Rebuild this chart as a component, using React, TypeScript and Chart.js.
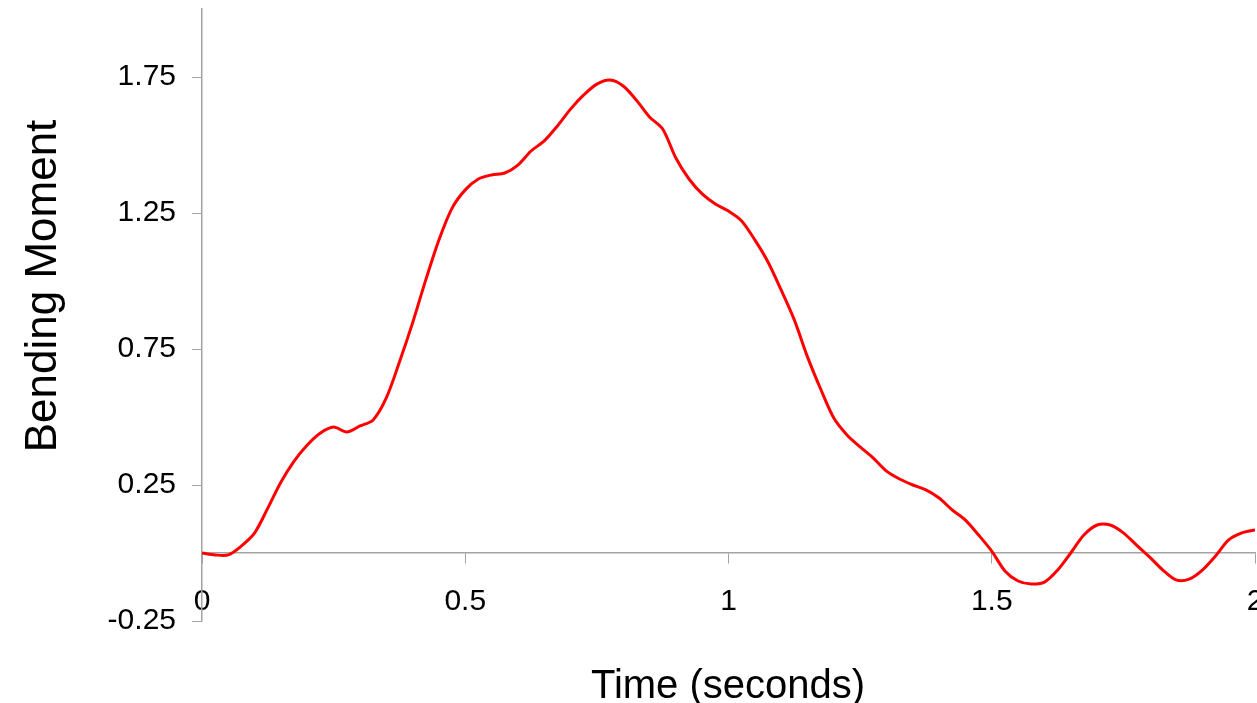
import React, { useEffect, useRef } from "react";
import { Chart, registerables } from "chart.js";

Chart.register(...registerables);

const times = [
  0, 0.025, 0.05, 0.075, 0.1, 0.125, 0.15, 0.175, 0.2, 0.225,
  0.25, 0.275, 0.3, 0.325, 0.35, 0.375, 0.4, 0.425, 0.45, 0.475,
  0.5, 0.525, 0.55, 0.575, 0.6, 0.625, 0.65, 0.675, 0.7, 0.725,
  0.75, 0.775, 0.8, 0.825, 0.85, 0.875, 0.9, 0.925, 0.95, 0.975,
  1.0, 1.025, 1.05, 1.075, 1.1, 1.125, 1.15, 1.175, 1.2, 1.225,
  1.25, 1.275, 1.3, 1.325, 1.35, 1.375, 1.4, 1.425, 1.45, 1.475,
  1.5, 1.525, 1.55, 1.575, 1.6, 1.625, 1.65, 1.675, 1.7, 1.725,
  1.75, 1.775, 1.8, 1.825, 1.85, 1.875, 1.9, 1.925, 1.95, 1.975,
  2.0,
];

const bendingMoment = [
  0.0, -0.007, -0.007, 0.026, 0.074, 0.165, 0.261, 0.338, 0.397, 0.441,
  0.463, 0.445, 0.467, 0.489, 0.57, 0.702, 0.846, 1.004, 1.151, 1.268,
  1.335, 1.375, 1.39, 1.397, 1.426, 1.478, 1.515, 1.57, 1.632, 1.684,
  1.724, 1.739, 1.717, 1.665, 1.603, 1.559, 1.452, 1.375, 1.32, 1.283,
  1.257, 1.221, 1.151, 1.07, 0.967, 0.857, 0.721, 0.603, 0.496, 0.434,
  0.39, 0.349, 0.301, 0.272, 0.25, 0.232, 0.202, 0.158, 0.121, 0.066,
  0.007, -0.066, -0.103, -0.114, -0.107, -0.063, 0.0, 0.066, 0.103, 0.103,
  0.074, 0.029, -0.015, -0.063, -0.099, -0.096, -0.063, -0.011, 0.048, 0.074,
  0.085,
];

const xTickValues = [0, 0.5, 1, 1.5, 2];
const xTickLabels = ["0", "0.5", "1", "1.5", "2"];
const yTickValues = [-0.25, 0.25, 0.75, 1.25, 1.75];
const yTickLabels = ["-0.25", "0.25", "0.75", "1.25", "1.75"];

const xTitle = "Time (seconds)";
const yTitle = "Bending Moment";

export default function App() {
  const canvasRef = useRef<HTMLCanvasElement | null>(null);

  useEffect(() => {
    const canvas = canvasRef.current;
    if (!canvas) return;
    const axisColor = "#a3a3a3";
    const tickFont = { family: "'Liberation Sans', Arial, sans-serif", size: 30 };

    const clearPadding = (scale: any) => {
      scale.paddingTop = 0;
      scale.paddingBottom = 0;
      scale.paddingLeft = 0;
      scale.paddingRight = 0;
    };

    const titlePlugin = {
      id: "titles",
      afterDraw(chart: any) {
        const ctx = chart.ctx;
        ctx.save();
        ctx.fillStyle = "#000000";
        ctx.font = "40px 'Liberation Sans', Arial, sans-serif";
        ctx.textAlign = "center";
        ctx.textBaseline = "alphabetic";
        ctx.fillText(xTitle, 728, 698);
        ctx.translate(56, 286);
        ctx.rotate(-Math.PI / 2);
        ctx.font = "44px 'Liberation Sans', Arial, sans-serif";
        ctx.fillText(yTitle, 0, 0);
        ctx.restore();
      },
    };

    const chart = new Chart(canvas, {
      type: "line",
      data: {
        datasets: [
          {
            data: times.map((t, i) => ({ x: t, y: bendingMoment[i] })),
            borderColor: "#ff0000",
            borderWidth: 3,
            pointRadius: 0,
            tension: 0.3,
            fill: false,
          },
        ],
      },
      options: {
        responsive: false,
        animation: false,
        layout: { padding: { left: 0, top: 9, right: 2, bottom: 82 } },
        plugins: { legend: { display: false }, tooltip: { enabled: false } },
        scales: {
          x: {
            type: "linear",
            position: { y: 0 } as any,
            min: 0,
            max: 2,
            afterFit: clearPadding,
            afterBuildTicks: (scale: any) => {
              scale.ticks = xTickValues.map((v) => ({ value: v }));
            },
            ticks: {
              color: "#000000",
              font: tickFont,
              padding: 21,
              maxRotation: 0,
              autoSkip: false,
              callback: (v: any) => {
                const i = xTickValues.indexOf(Number(v));
                return i >= 0 ? xTickLabels[i] : "";
              },
            },
            grid: {
              drawOnChartArea: false,
              drawTicks: true,
              tickLength: 10,
              color: axisColor,
              lineWidth: 1,
            },
            border: { display: true, color: axisColor, width: 1.5 },
          },
          y: {
            type: "linear",
            position: "left",
            min: -0.25,
            max: 2.0,
            afterFit: (scale: any) => {
              scale.width = 202;
              clearPadding(scale);
            },
            afterBuildTicks: (scale: any) => {
              scale.ticks = yTickValues.map((v) => ({ value: v }));
            },
            ticks: {
              color: "#000000",
              font: tickFont,
              padding: 16,
              autoSkip: false,
              callback: (v: any) => {
                const i = yTickValues.indexOf(Number(v));
                return i >= 0 ? yTickLabels[i] : "";
              },
            },
            grid: {
              drawOnChartArea: false,
              drawTicks: true,
              tickLength: 10,
              color: axisColor,
              lineWidth: 1,
            },
            border: { display: true, color: axisColor, width: 1.5 },
          },
        },
      },
      plugins: [titlePlugin],
    });

    return () => {
      chart.destroy();
    };
  }, []);

  return (
    <div style={{ position: "absolute", left: 0, top: 0, width: 1257, height: 703, background: "#ffffff" }}>
      <canvas ref={canvasRef} width={1257} height={703} style={{ display: "block" }} />
    </div>
  );
}
